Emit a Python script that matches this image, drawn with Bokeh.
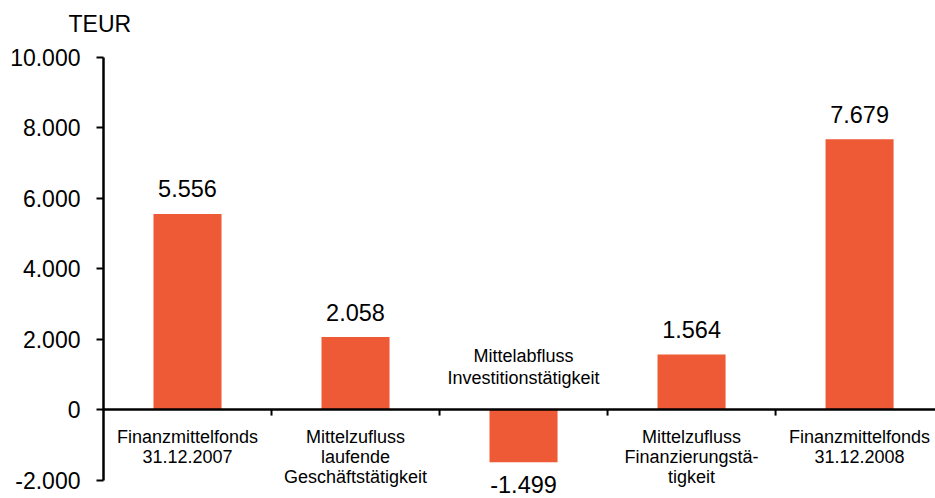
import numpy as np
from bokeh.plotting import figure
from bokeh.models import Range1d, FixedTicker, ColumnDataSource, Span
from bokeh.core.properties import value
from bokeh.embed import file_html
from bokeh.resources import INLINE

# ---- data ----
categories = [
    "Finanzmittelfonds\n31.12.2007",
    "Mittelzufluss\nlaufende\nGeschäftstätigkeit",
    "Mittelabfluss\nInvestitionstätigkeit",
    "Mittelzufluss\nFinanzierungstä-\ntigkeit",
    "Finanzmittelfonds\n31.12.2008",
]
values = [5556, 2058, -1499, 1564, 7679]
y_ticks = [-2000, 0, 2000, 4000, 6000, 8000, 10000]
unit_label = "TEUR"

FONT = "Liberation Sans"
BAR_COLOR = "#EF5A36"

def fmt(v):
    return f"{v:,}".replace(",", ".")

n = len(categories)
x = np.arange(n) + 0.5
vals = np.array(values)

p = figure(width=935, height=498, output_backend="svg", toolbar_location=None,
           x_range=Range1d(0, 4.952), y_range=Range1d(-2525, 10340),
           min_border_left=103, min_border_right=0, min_border_top=45, min_border_bottom=0)
p.outline_line_color = None
p.xgrid.visible = False
p.ygrid.visible = False
p.background_fill_color = "white"

# title as unit label
p.title.text = unit_label
p.title.text_font = FONT
p.title.text_font_size = "23px"
p.title.text_font_style = "normal"
p.title.text_color = "black"
p.title.align = "left"
p.title.offset = -35
p.title.standoff = 17

src = ColumnDataSource(dict(
    x=x, top=vals, lbl=[fmt(v) for v in values],
    off=np.where(vals >= 0, -25, 22),
))
p.vbar(x="x", top="top", bottom=0, width=0.405, source=src,
       fill_color=BAR_COLOR, line_color=None)

p.text(x="x", y="top", text="lbl", y_offset="off", source=src,
       text_font=value(FONT), text_font_size="23.5px", text_color="black",
       text_align="center", text_baseline="alphabetic")

pos = vals >= 0
cat_below = ColumnDataSource(dict(x=x[pos], y=np.zeros(pos.sum()),
                                  t=[c for c, k in zip(categories, pos) if k]))
cat_above = ColumnDataSource(dict(x=x[~pos], y=np.zeros((~pos).sum()),
                                  t=[c for c, k in zip(categories, pos) if not k]))
p.text(x="x", y="y", text="t", source=cat_below, y_offset=17,
       text_font=value(FONT), text_font_size="18px", text_color="black",
       text_align="center", text_baseline="top", text_line_height=1.02)
p.text(x="x", y="y", text="t", source=cat_above, y_offset=-22,
       text_font=value(FONT), text_font_size="18px", text_color="black",
       text_align="center", text_baseline="bottom", text_line_height=1.1)

# zero line and category separators
p.add_layout(Span(location=0, dimension="width", line_color="black", line_width=2.5))
bounds = np.arange(1, n)
p.ray(x=bounds, y=np.zeros(len(bounds)), length=6, length_units="screen",
      angle=-np.pi / 2, line_color="black", line_width=2)

# x axis hidden
p.xaxis.visible = False

# y axis
yax = p.yaxis[0]
yax.ticker = FixedTicker(ticks=y_ticks)
yax.bounds = (min(y_ticks), max(y_ticks))
yax.major_label_overrides = {t: fmt(t) for t in y_ticks}
yax.major_label_text_font = FONT
yax.major_label_text_font_size = "23px"
yax.major_label_text_color = "black"
yax.major_tick_in = 0
yax.major_tick_out = 7
yax.minor_tick_in = 0
yax.minor_tick_out = 0
yax.major_tick_line_width = 2
yax.axis_line_width = 2.5
yax.major_label_standoff = 16

open("out.html", "w").write(file_html(p, INLINE))
